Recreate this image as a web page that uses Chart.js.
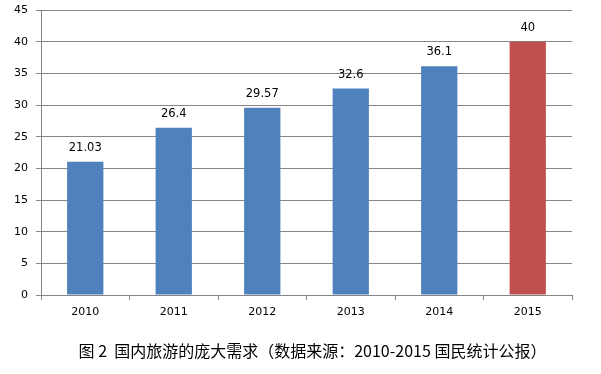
<!DOCTYPE html>
<html>
<head>
<meta charset="utf-8">
<script src="https://cdn.jsdelivr.net/npm/chart.js@4"></script>
<style>
body { margin: 0; background: #fff; }
#wrap { width: 601px; height: 374px; position: relative; }
</style>
</head>
<body>
<div id="wrap"><canvas id="barChart" width="601" height="374"></canvas></div>
<script>
// data
const years = ['2010', '2011', '2012', '2013', '2014', '2015'];
const demand = [21.03, 26.4, 29.57, 32.6, 36.1, 40];
const valueLabels = ['21.03', '26.4', '29.57', '32.6', '36.1', '40'];
const barColors = ['#4F81BD', '#4F81BD', '#4F81BD', '#4F81BD', '#4F81BD', '#C0504D'];
const captionText = '图 2  国内旅游的庞大需求（数据来源：2010-2015 国民统计公报）';

const tickFont = { family: 'DejaVu Sans', size: 11 };

// value labels above each bar
const valueLabelPlugin = {
	id: 'valueLabels',
	afterDatasetsDraw(chart)
	{
		const c = chart.ctx;
		const meta = chart.getDatasetMeta(0);
		c.save();
		c.font = '11.5px "DejaVu Sans"';
		c.fillStyle = '#000';
		c.textAlign = 'center';
		c.textBaseline = 'middle';
		meta.data.forEach((bar, i) => {
			c.fillText(valueLabels[i], bar.x, bar.y - 14);
		});
		c.restore();
	}
};

// figure caption under the axis, centred a little right of the plot centre
const captionPlugin = {
	id: 'caption',
	afterDraw(chart)
	{
		const c = chart.ctx;
		const area = chart.chartArea;
		c.save();
		c.font = '16px "Noto Sans CJK SC"';
		c.fillStyle = '#000';
		c.textAlign = 'center';
		c.textBaseline = 'middle';
		c.fillText(captionText, (area.left + area.right) / 2 + 6, area.bottom + 56);
		c.restore();
	}
};

const ctx = document.getElementById('barChart').getContext('2d');
const chart = new Chart(ctx, {
	type: 'bar',
	data: {
		labels: years,
		datasets: [{
			data: demand,
			backgroundColor: barColors,
			categoryPercentage: 0.41,
			barPercentage: 1.0
		}]
	},
	options: {
		responsive: false,
		animation: false,
		layout: { padding: { left: 0, right: 29, top: 10, bottom: 48.8 } },
		plugins: {
			legend: { display: false },
			tooltip: { enabled: false }
		},
		scales: {
			x: {
				grid: {
					offset: true,
					drawOnChartArea: false,
					drawTicks: true,
					tickLength: 5,
					color: '#868686'
				},
				border: { color: '#868686' },
				ticks: { color: '#000', font: tickFont, padding: 6 }
			},
			y: {
				min: 0,
				max: 45,
				afterFit(scale) {
					scale.width = 41;
					scale.paddingTop = 0;
					scale.paddingBottom = 0;
				},
				ticks: { stepSize: 5, color: '#000', font: tickFont, padding: 8 },
				grid: { color: '#868686', tickLength: 5 },
				border: { color: '#868686' }
			}
		}
	},
	plugins: [valueLabelPlugin, captionPlugin]
});
</script>
</body>
</html>
